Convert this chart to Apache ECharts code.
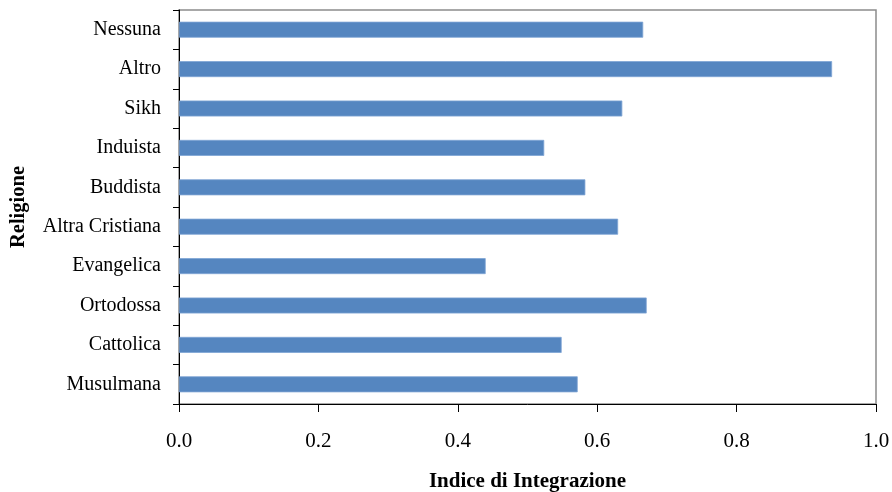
<!DOCTYPE html>
<html>
<head>
<meta charset="utf-8">
<script src="https://cdn.jsdelivr.net/npm/echarts@6/dist/echarts.min.js"></script>
<style>
html,body{margin:0;padding:0;background:#fff;}
#chart{width:892px;height:492px;}
</style>
</head>
<body>
<div id="chart"></div>
<script>
var categories = ["Nessuna","Altro","Sikh","Induista","Buddista","Altra Cristiana","Evangelica","Ortodossa","Cattolica","Musulmana"];
var values = [0.666, 0.937, 0.636, 0.524, 0.583, 0.630, 0.440, 0.671, 0.549, 0.572];
var xTicks = [0, 0.2, 0.4, 0.6, 0.8, 1.0];

var chart = echarts.init(document.getElementById('chart'));
var font = '"Liberation Serif", "Times New Roman", serif';
chart.setOption({
  backgroundColor: '#fff',
  animation: false,
  grid: {left: 179, right: 16, top: 10, bottom: 88, show: true, borderColor: '#8c8c8c', borderWidth: 1.5, backgroundColor: 'transparent', containLabel: false, outerBoundsMode: 'none'},
  xAxis: {
    type: 'value', min: xTicks[0], max: xTicks[xTicks.length-1], interval: 0.2,
    name: 'Indice di Integrazione', nameLocation: 'middle', nameGap: 67,
    nameTextStyle: {fontFamily: font, fontSize: 21, fontWeight: 'bold', color: '#000'},
    axisLine: {show: true, lineStyle: {color: '#000', width: 1}},
    axisTick: {show: true, length: 8, lineStyle: {color: '#000'}},
    axisLabel: {fontFamily: font, fontSize: 21, color: '#000', margin: 27, formatter: function(v){return v.toFixed(1);}},
    splitLine: {show: false}
  },
  yAxis: {
    type: 'category', data: categories, inverse: true,
    name: 'Religione', nameLocation: 'middle', nameGap: 150, nameRotate: 90,
    nameTextStyle: {fontFamily: font, fontSize: 20.5, fontWeight: 'bold', color: '#000'},
    axisLine: {show: true, lineStyle: {color: '#000', width: 1}},
    axisTick: {show: true, length: 6, lineStyle: {color: '#000'}},
    axisLabel: {fontFamily: font, fontSize: 20, color: '#000', margin: 18},
    splitLine: {show: false}
  },
  series: [{
    type: 'bar', data: values, barWidth: 16,
    itemStyle: {color: '#5586C0', borderColor: '#7FA5D4', borderWidth: 0.8}
  }]
});
</script>
</body>
</html>
